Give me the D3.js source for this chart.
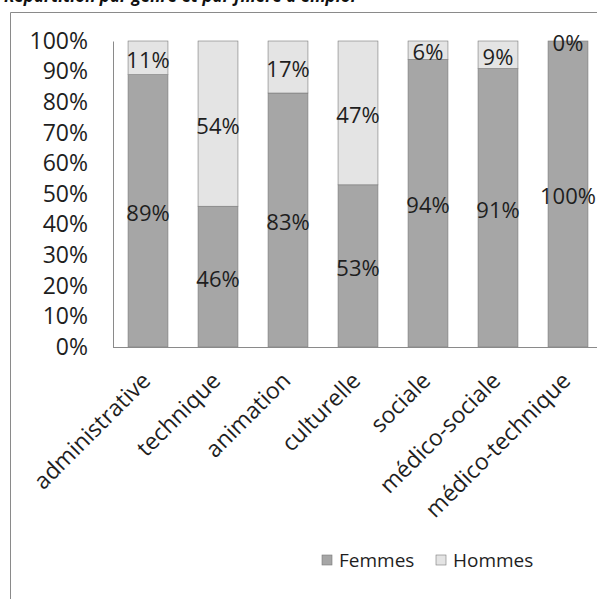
<!DOCTYPE html>
<html>
<head>
<meta charset="utf-8">
<script src="https://cdn.jsdelivr.net/npm/d3@7"></script>
<style>
  html, body { margin: 0; padding: 0; background: #fff; }
  svg { display: block; }
  text { font-family: "Open Sans", "Noto Sans", sans-serif; }
</style>
</head>
<body>
<svg id="chart" width="597" height="599"></svg>
<script>
// Filières d'emploi (catégories)
const categories = ["administrative", "technique", "animation", "culturelle", "sociale", "médico-sociale", "médico-technique"];
// Part des femmes et des hommes par filière (%)
const femmes = [89, 46, 83, 53, 94, 91, 100];
const hommes = [11, 54, 17, 47, 6, 9, 0];
const seriesNames = ["Femmes", "Hommes"];
const yTicks = [0, 10, 20, 30, 40, 50, 60, 70, 80, 90, 100];
const title = "Répartition par genre et par filière d'emploi";

const svg = d3.select("#chart");
const W = 597, H = 599;
const colors = { Femmes: "#a6a6a6", Hommes: "#e4e4e4" };
const ink = "#1e1e1e";

// Title (sits at the very top edge)
svg.append("text")
  .attr("x", 4).attr("y", 2)
  .attr("font-size", 17).attr("font-weight", "bold").attr("font-style", "italic")
  .attr("fill", "#111")
  .text(title);

// Chart frame
svg.append("path")
  .attr("d", `M10.5,${H} L10.5,12.5 L${W},12.5`)
  .attr("fill", "none").attr("stroke", "#8a8a8a").attr("stroke-width", 1);

const plot = { left: 113, right: 603, top: 41, bottom: 347 };

const x = d3.scaleBand()
  .domain(categories)
  .range([plot.left, plot.right])
  .paddingInner(0.43)
  .paddingOuter(0.215);

const y = d3.scaleLinear()
  .domain([0, 100])
  .range([plot.bottom, plot.top]);

// Stack the two series
const rows = categories.map((c, i) => ({ cat: c, Femmes: femmes[i], Hommes: hommes[i] }));
const stacked = d3.stack().keys(seriesNames)(rows);

// Bars
const gBars = svg.append("g");
stacked.forEach(layer => {
  gBars.selectAll(null)
    .data(layer)
    .join("rect")
    .attr("x", d => x(d.data.cat))
    .attr("width", x.bandwidth())
    .attr("y", d => y(d[1]))
    .attr("height", d => y(d[0]) - y(d[1]))
    .attr("fill", colors[layer.key])
    .attr("stroke", "#7a7a7a")
    .attr("stroke-width", 0.6);
});

// Value labels at the middle of each segment
const gLabels = svg.append("g");
stacked.forEach(layer => {
  gLabels.selectAll(null)
    .data(layer)
    .join("text")
    .attr("x", d => x(d.data.cat) + x.bandwidth() / 2)
    .attr("y", d => (y(d[0]) + y(d[1])) / 2 + 1)
    .attr("text-anchor", "middle")
    .attr("dominant-baseline", "central")
    .attr("font-size", 22)
    .attr("fill", ink)
    .text(d => Math.round(d[1] - d[0]) + "%");
});

// Y axis
const yAxis = d3.axisLeft(y)
  .tickValues(yTicks)
  .tickSize(0)
  .tickPadding(25)
  .tickFormat(d => d + "%");
const gy = svg.append("g")
  .attr("transform", `translate(${plot.left},0)`)
  .call(yAxis);
gy.select(".domain").attr("stroke", "#8a8a8a");
gy.selectAll("text")
  .attr("font-size", 23)
  .attr("fill", ink)
  .attr("font-family", "'Open Sans', sans-serif");

// X axis (baseline + rotated category labels)
const xAxis = d3.axisBottom(x).tickSize(0).tickPadding(0);
const gx = svg.append("g")
  .attr("transform", `translate(0,${plot.bottom})`)
  .call(xAxis);
gx.select(".domain").attr("stroke", "#8a8a8a").attr("d", `M${plot.left},0.5H${W}`);
gx.selectAll("text")
  .attr("font-size", 23)
  .attr("fill", ink)
  .attr("font-family", "'Open Sans', sans-serif")
  .attr("text-anchor", "end")
  .attr("dy", "0")
  .attr("transform", "translate(4,35) rotate(-45)");

// Legend
const legend = svg.append("g").attr("transform", "translate(322,560)");
const legendX = [0, 114];
seriesNames.forEach((s, i) => {
  const g = legend.append("g").attr("transform", `translate(${legendX[i]},0)`);
  g.append("rect")
    .attr("x", 0).attr("y", -5).attr("width", 10).attr("height", 10)
    .attr("fill", colors[s]).attr("stroke", "#7a7a7a").attr("stroke-width", 0.6);
  g.append("text")
    .attr("x", 17).attr("y", 0)
    .attr("dominant-baseline", "central")
    .attr("font-size", 19)
    .attr("fill", ink)
    .text(s);
});
</script>
</body>
</html>
